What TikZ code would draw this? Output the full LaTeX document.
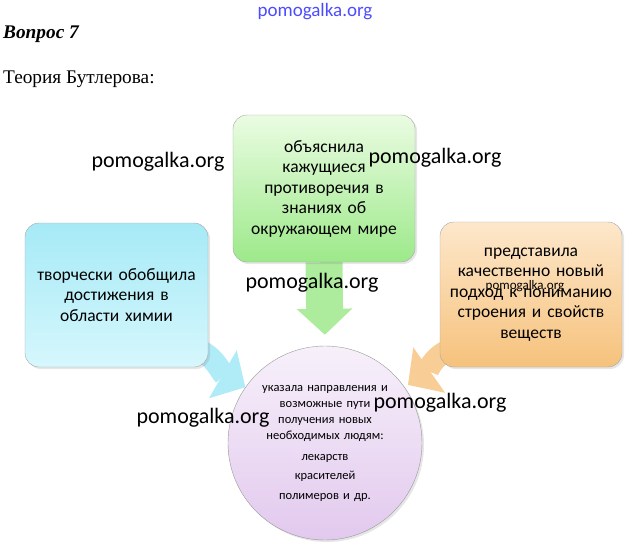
\documentclass[tikz,border=0pt]{standalone}
\usepackage{fontspec}
\setmainfont{Liberation Serif}
\newfontfamily\boxfont{Carlito}
\newfontfamily\markfont{Carlito}
\usetikzlibrary{shapes.geometric, arrows.meta, calc, positioning, backgrounds, shadows}

\definecolor{greentop}{HTML}{EAFCE2}
\definecolor{greenbot}{HTML}{9DE98A}
\definecolor{bluetop}{HTML}{A6EAF6}
\definecolor{bluebot}{HTML}{D6F7FD}
\definecolor{orangetop}{HTML}{FDE7CB}
\definecolor{orangebot}{HTML}{F6C27C}
\definecolor{liltop}{HTML}{F7F0FA}
\definecolor{lilbot}{HTML}{E2C9EE}

\tikzstyle{idea} = [rectangle, rounded corners=14pt, text centered, text width=168pt,
draw=black!35, font=\boxfont\fontsize{17.5}{20.5}\selectfont,
drop shadow={opacity=0.2, shadow xshift=2pt, shadow yshift=-2pt}]
\tikzstyle{result} = [circle, minimum size=194pt, inner sep=0pt, text centered, text width=150pt,
draw=black!40, top color=liltop, bottom color=lilbot,
font=\boxfont\fontsize{12.5}{16}\selectfont,
drop shadow={opacity=0.2, shadow xshift=2pt, shadow yshift=-2pt}]
\tikzstyle{bigarrow} = [line width=22pt, -{Triangle[width=54pt, length=26pt]}]
\tikzstyle{wmark} = [font=\markfont\fontsize{22}{24}\selectfont, text=black, inner sep=0pt]

\begin{document}
\begin{tikzpicture}[x=1pt, y=-1pt]
      \useasboundingbox (0,0) rectangle (629,543);

      \node (wmtop) at (315,12) [font=\markfont\fontsize{19}{21}\selectfont, text=blue!70, inner sep=0pt] {pomogalka.org};
      \node (vopr) at (3,39) [anchor=base west, inner sep=0pt, font=\fontsize{19.3}{22}\selectfont] {\bfseries\itshape Вопрос 7};
      \node (teor) at (3,83) [anchor=base west, inner sep=0pt, font=\fontsize{19.3}{22}\selectfont] {Теория Бутлерова:};

      \node (obj) at (324,188.5) [idea, minimum width=182pt, minimum height=147pt,
        top color=greentop, bottom color=greenbot]
        {объяснила\\ кажущиеся\\ противоречия в\\ знаниях об\\ окружающем мире};
      \node (tvor) at (116.5,295) [idea, minimum width=183pt, minimum height=144pt,
        top color=bluetop, bottom color=bluebot]
        {творчески обобщила\\ достижения в\\ области химии};
      \node (pred) at (531,294.5) [idea, minimum width=182pt, minimum height=145pt,
        top color=orangetop, bottom color=orangebot]
        {представила\\ качественно новый\\ подход к пониманию\\ строения и свойств\\ веществ};

      \node (ukaz) at (325,443) [result]
        {указала направления и\\ возможные пути\\ получения новых\\ необходимых людям:\\[5pt]
         лекарств\\[3pt] красителей\\[4pt] полимеров и др.};

      \begin{scope}[on background layer]
        \draw [bigarrow, line width=37pt, draw=greenbot!85, shorten >=11pt] (obj.south) -- (ukaz.north);
        \draw [bigarrow, draw=bluetop!90] ($(tvor.south east)+(-25,-20)$) to[out=0, in=150] (ukaz.145);
        \draw [bigarrow, draw=orangebot!80, shorten >=4pt] ($(pred.south west)+(25,-20)$) to[out=180, in=35] (ukaz.35);
      \end{scope}

      % watermarks
      \node (wm1) at (158,162) [wmark] {pomogalka.org};
      \node (wm2) at (435,158) [wmark] {pomogalka.org};
      \node (wm3) at (312,283) [wmark] {pomogalka.org};
      \node (wm4) at (203,418) [wmark] {pomogalka.org};
      \node (wm5) at (440,403) [wmark] {pomogalka.org};
      \node (wm6) at (525,286) [wmark, font=\markfont\fontsize{13}{15}\selectfont] {pomogalka.org};
    \end{tikzpicture}
\end{document}
